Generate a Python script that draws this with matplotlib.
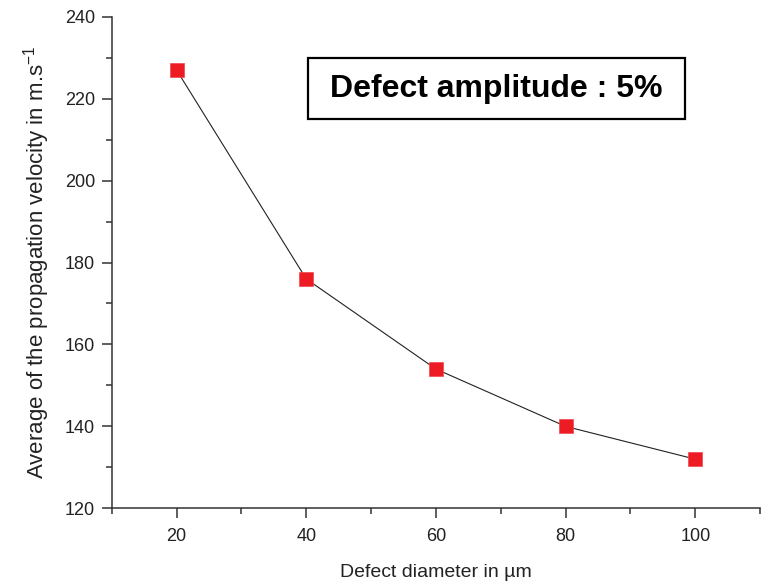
import matplotlib
matplotlib.use('Agg')
from matplotlib import pyplot as plt
from matplotlib.patches import Rectangle
from matplotlib.ticker import MultipleLocator

plt.rcParams['font.family'] = ['Liberation Sans', 'DejaVu Sans']

# data
diameter = [20, 40, 60, 80, 100]
velocity = [227, 176, 154, 140, 132]
x_ticks = [20, 40, 60, 80, 100]
y_ticks = [120, 140, 160, 180, 200, 220, 240]

fig = plt.figure(figsize=(7.67, 5.82), dpi=100)
ax = fig.add_axes([0.1456, 0.1266, 0.8454, 0.8447])

ax.plot(diameter, velocity, color='#222222', linewidth=0.8, zorder=2)
ax.plot(diameter, velocity, linestyle='none', marker='s', markersize=10.5,
        markerfacecolor='#ED1C24', markeredgecolor='#F04850', markeredgewidth=0.5, zorder=3)

ax.set_xlim(10, 110)
ax.set_ylim(120, 240)
ax.set_xticks(x_ticks)
ax.set_yticks(y_ticks)
ax.xaxis.set_minor_locator(MultipleLocator(10))
ax.yaxis.set_minor_locator(MultipleLocator(10))

for s in ['top', 'right']:
    ax.spines[s].set_visible(False)
for s in ['left', 'bottom']:
    ax.spines[s].set_color('#333333')
    ax.spines[s].set_linewidth(1.1)

ax.tick_params(which='major', direction='out', length=7, width=1.1, color='#333333',
               labelsize=13, labelcolor='#222222')
ax.tick_params(axis='y', which='major', pad=5)
ax.tick_params(axis='x', which='major', pad=7)
ax.tick_params(which='minor', direction='out', length=4, width=1.1, color='#333333')

ax.set_xlabel('Defect diameter in µm', fontsize=14, color='#222222', labelpad=14)
ax.set_ylabel('Average of the propagation velocity in m.s$^{\\mathregular{-1}}$',
              fontsize=16, color='#222222', labelpad=9)

# framed annotation
ax.add_patch(Rectangle((0.3028, 0.792), 0.5815, 0.124, transform=ax.transAxes,
                       facecolor='white', edgecolor='black', linewidth=1.6, zorder=4))
ax.text(0.5935, 0.852, 'Defect amplitude : 5%', transform=ax.transAxes,
        ha='center', va='center', fontsize=23, fontweight='bold', color='black', zorder=5)

plt.savefig('out.png', dpi=100)
